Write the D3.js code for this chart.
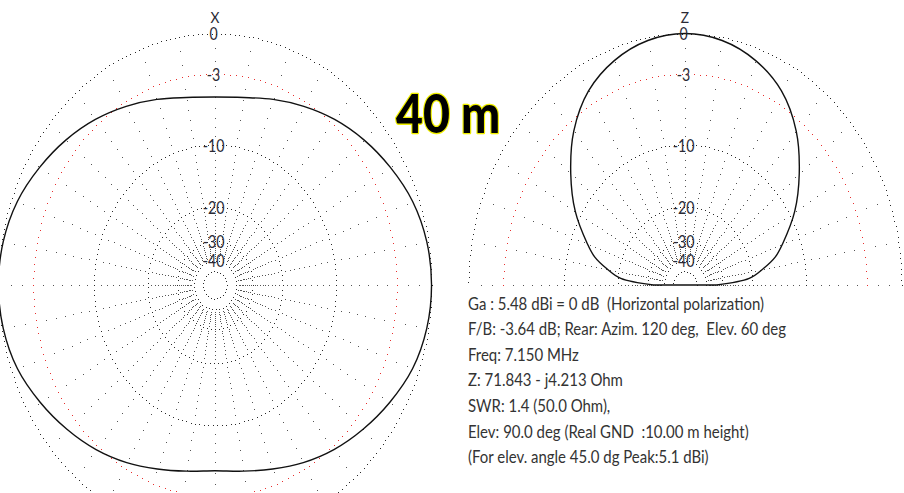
<!DOCTYPE html>
<html>
<head>
<meta charset="utf-8">
<script src="https://cdn.jsdelivr.net/npm/d3@7"></script>
<style>
  html, body { margin: 0; padding: 0; background: #fff; }
  svg { display: block; }
</style>
</head>
<body>
<script>
// ---- Pattern data (gain relative to Ga = 5.48 dBi, in dB) ----
// Azimuth pattern, angle measured clockwise from the X axis (top)
const azAngles = [0, 10, 20, 30, 40, 50, 60, 70, 80, 90, 100, 110, 120, 130, 140, 150, 160, 170,
                  180, 190, 200, 210, 220, 230, 240, 250, 260, 270, 280, 290, 300, 310, 320, 330, 340, 350];
const azGain = [-5.0, -4.78, -4.15, -3.4, -2.6, -1.85, -1.15, -0.5, -0.12, 0.0, -0.12, -0.5, -1.2, -1.95, -2.7, -3.5, -4.3, -4.9,
                -5.2, -4.9, -4.3, -3.5, -2.7, -1.95, -1.2, -0.5, -0.12, 0.0, -0.12, -0.5, -1.15, -1.85, -2.6, -3.4, -4.15, -4.78];

// Elevation pattern, angle measured from the horizon (0..180)
const elAngles = [0, 5, 10, 15, 20, 30, 40, 50, 60, 70, 80, 90, 100, 110, 120, 130, 140, 150, 160, 165, 170, 175, 180];
const elGain = [-33, -20.8, -17.3, -14.4, -12.6, -9.2, -6.4, -3.85, -1.98, -0.87, -0.22, 0.0,
                -0.22, -0.87, -1.98, -3.85, -6.4, -9.2, -12.6, -14.4, -17.3, -20.8, -33];

// Grid rings (dB) and their labels
const ringLevels = [0, -3, -10, -20, -30, -40, -50];
const ringLabels = ["0", "-3", "-10", "-20", "-30", "-40", ""];
const radialStep = 10;   // degrees between radial dotted lines
const radialDepth = 38;  // radial dots every 1 dB down to this level

const plotNames = ["X", "Z"];
const title = "40 m";
const infoLines = [
  "Ga : 5.48 dBi = 0 dB  (Horizontal polarization)",
  "F/B: -3.64 dB; Rear: Azim. 120 deg,  Elev. 60 deg",
  "Freq: 7.150 MHz",
  "Z: 71.843 - j4.213 Ohm",
  "SWR: 1.4 (50.0 Ohm),",
  "Elev: 90.0 deg (Real GND  :10.00 m height)",
  "(For elev. angle 45.0 dg Peak:5.1 dBi)"
];

// ---- Layout ----
const W = 904, H = 493;
const XS = 0.861;          // horizontal compression of the whole drawing
const R = 251.5;           // 0 dB radius
const cy = 285;
const plots = [
  { name: plotNames[0], cx: 215, full: true },
  { name: plotNames[1], cx: 685, full: false }
];

// ARRL-style log scale: radius shrinks by 0.89 per 2 dB
const rFactor = db => Math.pow(0.89, -db / 2);

const ringSpacing = { "0": 5.4, "-3": 7.0, "-10": 5.2, "-20": 5.0, "-30": 4.6, "-40": 4.2, "-50": 3.8 };
const ringColor = level => level === -3 ? "#e8302f" : "#2a2a2a";

const svg = d3.select("body").append("svg")
  .attr("width", W).attr("height", H)
  .attr("font-family", "Lato, 'Noto Sans', sans-serif");

plots.forEach((p, pi) => {
  const x = d3.scaleLinear().domain([-1, 1]).range([p.cx - R * XS, p.cx + R * XS]);
  const y = d3.scaleLinear().domain([-1, 1]).range([cy + R, cy - R]);
  const proj = (phi, db) => {
    const r = rFactor(db), a = phi * Math.PI / 180;
    return [x(r * Math.cos(a)), y(r * Math.sin(a))];
  };
  const span = p.full ? 360 : 180;
  const g = svg.append("g").attr("shape-rendering", "crispEdges");

  // dotted rings
  ringLevels.forEach(level => {
    const rr = R * rFactor(level);
    const n = Math.round(2 * Math.PI * rr / ringSpacing[String(level)]);
    const pts = d3.range(n).map(i => i * 360 / n).filter(a => a <= span + 1e-9);
    g.append("g").selectAll("rect").data(pts).join("rect")
      .attr("x", d => Math.round(proj(d, level)[0]))
      .attr("y", d => Math.round(proj(d, level)[1]))
      .attr("width", 1).attr("height", 1)
      .attr("fill", ringColor(level));
  });

  // dotted radials, one dot per dB
  const phis = d3.range(0, span + (p.full ? 0 : 1), radialStep);
  const dbs = d3.range(-1, -radialDepth - 1, -1).filter(d => !ringLevels.includes(d));
  const rad = [];
  phis.forEach(phi => dbs.forEach(db => rad.push([phi, db])));
  g.append("g").selectAll("rect").data(rad).join("rect")
    .attr("x", d => Math.round(proj(d[0], d[1])[0]))
    .attr("y", d => Math.round(proj(d[0], d[1])[1]))
    .attr("width", 1).attr("height", 1)
    .attr("fill", "#555");

  // pattern curve
  const curve = p.full
    ? d3.line().curve(d3.curveCatmullRomClosed)(azAngles.map((az, i) => proj(90 - az, azGain[i])))
    : d3.line().curve(d3.curveCatmullRom)(elAngles.map((e, i) => proj(e, elGain[i]))) + "Z";
  svg.append("path")
    .attr("d", curve)
    .attr("fill", "none").attr("stroke", "#111").attr("stroke-width", 1.4);

  // ring labels
  ringLevels.forEach((level, i) => {
    if (!ringLabels[i]) return;
    const ty = y(rFactor(level)) + 1;
    svg.append("text")
      .attr("transform", `translate(${p.cx - 1.5},${ty}) scale(${XS},1)`)
      .attr("text-anchor", "middle").attr("dy", "0.36em")
      .attr("font-size", 16.5).attr("fill", "#2a2a35")
      .text(ringLabels[i]);
  });

  // plot name
  svg.append("text")
    .attr("transform", `translate(${p.cx},${23}) scale(${XS},1)`)
    .attr("text-anchor", "middle")
    .attr("font-size", 16).attr("fill", "#2a2a35")
    .text(p.name);
});

// band title
svg.append("text")
  .attr("transform", `translate(396,133) scale(${XS},1)`)
  .attr("font-size", 54).attr("font-weight", 900)
  .attr("fill", "#000").attr("stroke", "#f0f000").attr("stroke-width", 2.6)
  .attr("paint-order", "stroke").attr("stroke-linejoin", "round")
  .text(title);

// info block
svg.append("g").selectAll("text").data(infoLines).join("text")
  .attr("transform", (d, i) => `translate(468,${309.5 + i * 25.6}) scale(${XS},1)`)
  .attr("font-size", 17.4).attr("fill", "#333")
  .style("white-space", "pre")
  .text(d => d);
</script>
</body>
</html>
